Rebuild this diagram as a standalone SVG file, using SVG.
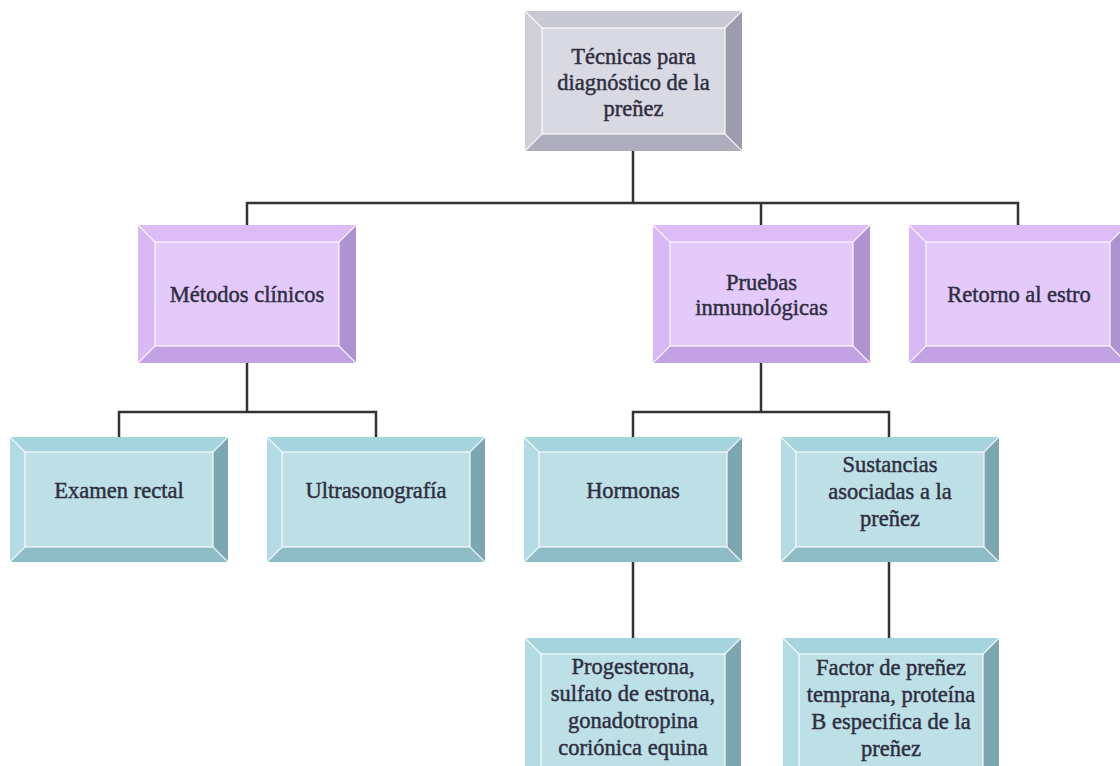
<svg xmlns="http://www.w3.org/2000/svg" width="1120" height="766" viewBox="0 0 1120 766">
<style>
.bg{fill:#ffffff}
.grey .t{fill:#c9c9d4}.grey .l{fill:#cfcfd9}.grey .r{fill:#9c9cac}.grey .b{fill:#acacbc}.grey .f{fill:#d9d9e3}
.purple .t{fill:#dcbcf6}.purple .l{fill:#d8b9f4}.purple .r{fill:#ad93cf}.purple .b{fill:#c2a2e2}.purple .f{fill:#e4c9fb}
.teal .t{fill:#a6d4dd}.teal .l{fill:#b2dbe3}.teal .r{fill:#7ca7b0}.teal .b{fill:#8ebcc5}.teal .f{fill:#bde0e7}
.f{stroke:#ffffff;stroke-width:1.3;stroke-opacity:0.85}
.hl{stroke:#ffffff;stroke-width:1.3;stroke-opacity:0.8;fill:none}
text{font-family:"Liberation Serif","Times New Roman",serif;font-size:22.5px;fill:#2e2e40;stroke:#2e2e40;stroke-width:0.45;text-anchor:middle}
.conn{fill:none;stroke:#333333;stroke-width:2.5;stroke-linejoin:miter}
</style>
<rect class="bg" x="0" y="0" width="1120" height="766"/>

<g id="connectors">
<path class="conn" d="M633,151 V203 M247,225 V203 H1018 V225 M761,203 V225"/>
<path class="conn" d="M247,363 V412 M119,437 V412 H376 V437"/>
<path class="conn" d="M761,363 V412 M633,437 V412 H889 V437"/>
<path class="conn" d="M633,562 V638 M889,562 V638"/>
</g>

<g id="n-tecnicas" class="grey">
<polygon class="t" points="525,11 742,11 725,28 542,28"/>
<polygon class="l" points="525,11 542,28 542,134 525,151"/>
<polygon class="r" points="742,11 742,151 725,134 725,28"/>
<polygon class="b" points="525,151 542,134 725,134 742,151"/>
<rect class="f" x="542" y="28" width="183" height="106"/>
<path class="hl" d="M525,11 L542,28 M742,11 L725,28 M525,151 L542,134 M742,151 L725,134"/>
<text x="633.5" y="64">Técnicas para</text>
<text x="633.5" y="90">diagnóstico de la</text>
<text x="633.5" y="116">preñez</text>
</g>

<g id="n-metodos" class="purple">
<polygon class="t" points="138,225 356,225 339,242 155,242"/>
<polygon class="l" points="138,225 155,242 155,346 138,363"/>
<polygon class="r" points="356,225 356,363 339,346 339,242"/>
<polygon class="b" points="138,363 155,346 339,346 356,363"/>
<rect class="f" x="155" y="242" width="184" height="104"/>
<path class="hl" d="M138,225 L155,242 M356,225 L339,242 M138,363 L155,346 M356,363 L339,346"/>
<text x="247" y="302">Métodos clínicos</text>
</g>

<g id="n-pruebas" class="purple">
<polygon class="t" points="653,225 870,225 853,242 670,242"/>
<polygon class="l" points="653,225 670,242 670,346 653,363"/>
<polygon class="r" points="870,225 870,363 853,346 853,242"/>
<polygon class="b" points="653,363 670,346 853,346 870,363"/>
<rect class="f" x="670" y="242" width="183" height="104"/>
<path class="hl" d="M653,225 L670,242 M870,225 L853,242 M653,363 L670,346 M870,363 L853,346"/>
<text x="761.5" y="290">Pruebas</text>
<text x="761.5" y="315">inmunológicas</text>
</g>

<g id="n-retorno" class="purple">
<polygon class="t" points="909,225 1127,225 1110,242 926,242"/>
<polygon class="l" points="909,225 926,242 926,346 909,363"/>
<polygon class="r" points="1127,225 1127,363 1110,346 1110,242"/>
<polygon class="b" points="909,363 926,346 1110,346 1127,363"/>
<rect class="f" x="926" y="242" width="184" height="104"/>
<path class="hl" d="M909,225 L926,242 M1127,225 L1110,242 M909,363 L926,346 M1127,363 L1110,346"/>
<text x="1019" y="302">Retorno al estro</text>
</g>

<g id="n-examen" class="teal">
<polygon class="t" points="10,437 228,437 213,452 25,452"/>
<polygon class="l" points="10,437 25,452 25,547 10,562"/>
<polygon class="r" points="228,437 228,562 213,547 213,452"/>
<polygon class="b" points="10,562 25,547 213,547 228,562"/>
<rect class="f" x="25" y="452" width="188" height="95"/>
<path class="hl" d="M10,437 L25,452 M228,437 L213,452 M10,562 L25,547 M228,562 L213,547"/>
<text x="119" y="498">Examen rectal</text>
</g>

<g id="n-ultra" class="teal">
<polygon class="t" points="267,437 485,437 470,452 282,452"/>
<polygon class="l" points="267,437 282,452 282,547 267,562"/>
<polygon class="r" points="485,437 485,562 470,547 470,452"/>
<polygon class="b" points="267,562 282,547 470,547 485,562"/>
<rect class="f" x="282" y="452" width="188" height="95"/>
<path class="hl" d="M267,437 L282,452 M485,437 L470,452 M267,562 L282,547 M485,562 L470,547"/>
<text x="376" y="498">Ultrasonografía</text>
</g>

<g id="n-hormonas" class="teal">
<polygon class="t" points="524,437 742,437 727,452 539,452"/>
<polygon class="l" points="524,437 539,452 539,547 524,562"/>
<polygon class="r" points="742,437 742,562 727,547 727,452"/>
<polygon class="b" points="524,562 539,547 727,547 742,562"/>
<rect class="f" x="539" y="452" width="188" height="95"/>
<path class="hl" d="M524,437 L539,452 M742,437 L727,452 M524,562 L539,547 M742,562 L727,547"/>
<text x="633" y="498">Hormonas</text>
</g>

<g id="n-sustancias" class="teal">
<polygon class="t" points="781,437 999,437 984,452 796,452"/>
<polygon class="l" points="781,437 796,452 796,547 781,562"/>
<polygon class="r" points="999,437 999,562 984,547 984,452"/>
<polygon class="b" points="781,562 796,547 984,547 999,562"/>
<rect class="f" x="796" y="452" width="188" height="95"/>
<path class="hl" d="M781,437 L796,452 M999,437 L984,452 M781,562 L796,547 M999,562 L984,547"/>
<text x="890" y="472">Sustancias</text>
<text x="890" y="499">asociadas a la</text>
<text x="890" y="526">preñez</text>
</g>

<g id="n-progesterona" class="teal">
<polygon class="t" points="525,638 741,638 725,654 541,654"/>
<polygon class="l" points="525,638 541,654 541,772 525,788"/>
<polygon class="r" points="741,638 741,788 725,772 725,654"/>
<rect class="f" x="541" y="654" width="184" height="118"/>
<path class="hl" d="M525,638 L541,654 M741,638 L725,654"/>
<text x="633" y="674">Progesterona,</text>
<text x="633" y="701">sulfato de estrona,</text>
<text x="633" y="728">gonadotropina</text>
<text x="633" y="755">coriónica equina</text>
</g>

<g id="n-factor" class="teal">
<polygon class="t" points="783,638 999,638 983,654 799,654"/>
<polygon class="l" points="783,638 799,654 799,772 783,788"/>
<polygon class="r" points="999,638 999,788 983,772 983,654"/>
<rect class="f" x="799" y="654" width="184" height="118"/>
<path class="hl" d="M783,638 L799,654 M999,638 L983,654"/>
<text x="891" y="675">Factor de preñez</text>
<text x="891" y="702">temprana, proteína</text>
<text x="891" y="729">B especifica de la</text>
<text x="891" y="756">preñez</text>
</g>
</svg>
